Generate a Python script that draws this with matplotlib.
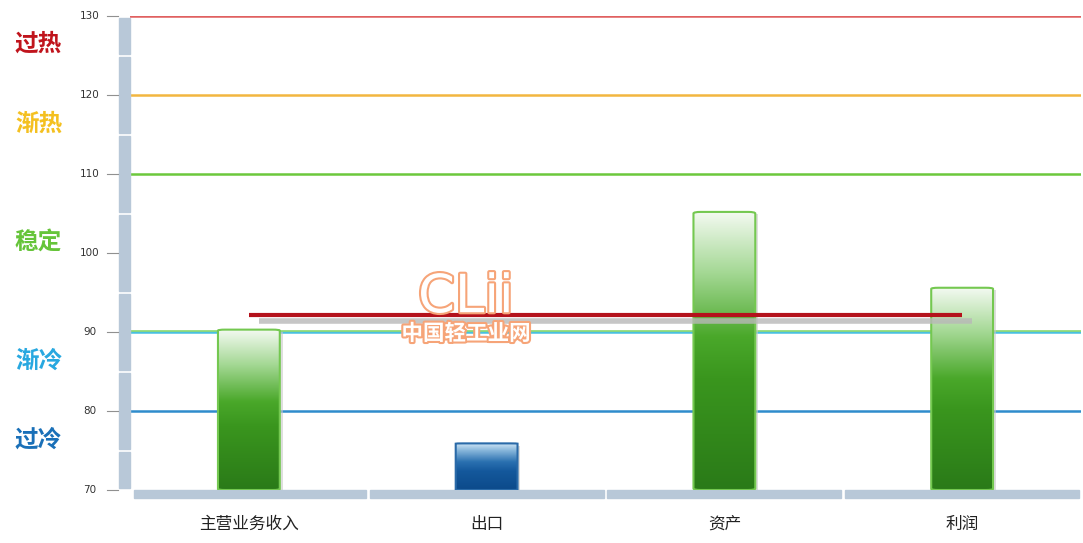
import matplotlib.pyplot as plt
import matplotlib.patheffects as pe
import matplotlib.transforms as mtrans
from matplotlib.patches import FancyBboxPatch, Rectangle
from matplotlib.colors import LinearSegmentedColormap
import numpy as np

plt.rcParams['font.family'] = ['Noto Sans CJK SC', 'DejaVu Sans']

# data
categories = ['主营业务收入', '出口', '资产', '利润']
values = [90.3, 75.9, 105.2, 95.6]
bar_kind = ['green', 'blue', 'green', 'green']
mean_value = 92.1

level_values = [130, 120, 110, 90, 80]
level_colors = ['#e06060', '#f2b640', '#6cc83c', '#48c0e0', '#2f8ccc']
zone_names = ['过热', '渐热', '稳定', '渐冷', '过冷']
zone_y = [126.5, 116.4, 101.4, 86.3, 76.4]
zone_colors = ['#c0141c', '#f4c020', '#66c43a', '#28a8e0', '#1a70b8']
yticks = [70, 80, 90, 100, 110, 120, 130]

fig = plt.figure(figsize=(10.83, 5.43), dpi=100)
ax = fig.add_axes([130 / 1083, 53 / 543, 951 / 1083, 474 / 543])
ax.set_xlim(-0.5, 3.5)
ax.set_ylim(70, 130)
ax.set_xticks([])
ax.set_yticks([])
for s in ax.spines.values():
    s.set_visible(False)

# level lines
for v, c in zip(level_values, level_colors):
    ax.axhline(v, color=c, lw=1.8, zorder=1)
# green edge just above the 90 line
up = mtrans.offset_copy(ax.transData, fig=fig, x=0, y=1.5, units='dots')
ax.plot([-0.5, 3.5], [90, 90], color='#8ad870', lw=1.2, transform=up, zorder=1)

# gradient bars
cmaps = {
    'green': LinearSegmentedColormap.from_list(
        'g', [(0, '#2a7a18'), (0.4, '#3a961e'), (0.55, '#4aa82a'),
              (0.78, '#a4d894'), (1, '#f4faf2')]),
    'blue': LinearSegmentedColormap.from_list(
        'b', [(0, '#0c4a8a'), (0.4, '#14589c'), (0.6, '#2a70b0'),
              (0.85, '#8ab8dc'), (1, '#d0e6f6')]),
}
edges = {'green': '#74c850', 'blue': '#2a6aa8'}
grad = np.linspace(0, 1, 256).reshape(-1, 1)
bw = 0.26
for i, (v, k) in enumerate(zip(values, bar_kind)):
    # soft shadow to the right
    ax.add_patch(Rectangle((i - bw / 2 + 0.012, 70), bw, v - 70 - 0.3,
                           facecolor='#c8c8c8', edgecolor='none', alpha=0.6,
                           zorder=2.5))
    patch = FancyBboxPatch((i - bw / 2, 70), bw, v - 70,
                           boxstyle='round,pad=0,rounding_size=0.03',
                           mutation_aspect=(v - 70) / bw * 0.05,
                           facecolor='none', edgecolor=edges[k], lw=1.5,
                           zorder=4)
    ax.add_patch(patch)
    im = ax.imshow(grad, cmap=cmaps[k], aspect='auto', origin='lower',
                   extent=(i - bw / 2, i + bw / 2, 70, v), zorder=3)
    im.set_clip_path(patch)

# mean line with shadow
sh = mtrans.offset_copy(ax.transData, fig=fig, x=10, y=-6, units='dots')
ax.plot([0, 3], [mean_value, mean_value], color='#b8b8b8', lw=4, alpha=0.8,
        transform=sh, zorder=5, solid_capstyle='butt')
ax.plot([0, 3], [mean_value, mean_value], color='#b4121c', lw=3, zorder=6,
        solid_capstyle='butt')

# watermark
ax.text(0.913, 94.4, 'CLii', fontsize=38, color='white', ha='center',
        va='center', family='DejaVu Sans', zorder=7,
        path_effects=[pe.withStroke(linewidth=3, foreground='#f6a478')])
ax.text(0.913, 89.8, '中国轻工业网', fontsize=15.5, color='white', ha='center',
        va='center', fontweight='bold', zorder=7,
        path_effects=[pe.withStroke(linewidth=3, foreground='#f6a478')])

# axis bands
band = '#b8c8d8'
tr_v = mtrans.blended_transform_factory(ax.transAxes, ax.transData)
breaks = [70, 75, 85, 95, 105, 115, 125, 130]
for a, b in zip(breaks[:-1], breaks[1:]):
    ax.add_patch(Rectangle((-11 / 951, a + 0.2), 11 / 951, b - a - 0.4,
                           transform=tr_v, color=band, clip_on=False, zorder=2))
tr_h = mtrans.blended_transform_factory(ax.transData, ax.transAxes)
seg = [-0.49, 0.5, 1.5, 2.5, 3.5]
for a, b in zip(seg[:-1], seg[1:]):
    ax.add_patch(Rectangle((a + 0.008, -8 / 474), b - a - 0.016, 8 / 474,
                           transform=tr_h, color=band, clip_on=False, zorder=2))

# y tick labels and ticks
for t in yticks:
    ax.plot([-23 / 951, -12 / 951], [t, t], color='#909090', lw=0.8,
            transform=tr_v, clip_on=False)
    ax.text(-40 / 951, t, str(t), transform=tr_v, fontsize=7.5,
            color='#333333', ha='center', va='center', family='DejaVu Sans')

# zone labels
for name, y, c in zip(zone_names, zone_y, zone_colors):
    ax.text(-115 / 951, y, name, transform=tr_v, fontsize=17,
            fontweight='bold', color=c, ha='left', va='center')

# category labels
for i, name in enumerate(categories):
    ax.text(i, -34 / 474, name, transform=tr_h, fontsize=12, color='#222222',
            ha='center', va='center')

fig.savefig('out.png', dpi=100, facecolor='white')
